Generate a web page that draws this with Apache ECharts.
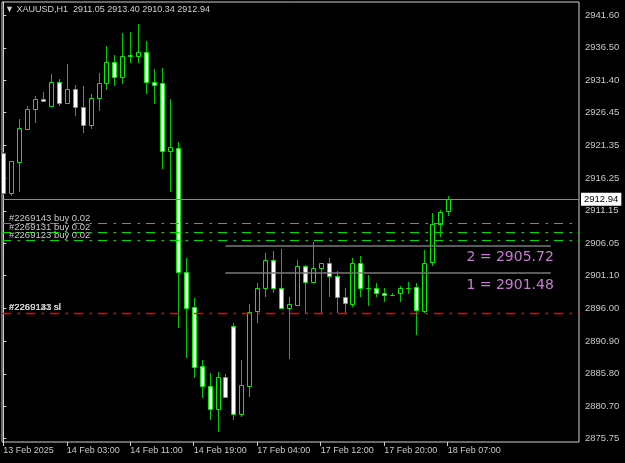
<!DOCTYPE html>
<html>
<head>
<meta charset="utf-8">
<script src="https://cdn.jsdelivr.net/npm/echarts@6/dist/echarts.min.js"></script>
<style>
html,body{margin:0;padding:0;background:#000;}
#c{width:625px;height:463px;}
</style>
</head>
<body>
<div id="c"></div>
<script>
// ---- data ----
const opens  = [2920.09,2913.87,2918.78,2923.92,2926.93,2928.58,2927.45,2931.13,2927.96,2930.04,2927.25,2924.45,2928.65,2930.98,2934.34,2931.91,2935.27,2935.22,2935.89,2931.13,2930.98,2920.40,2920.92,2901.68,2896.14,2887.01,2883.95,2880.32,2885.30,2893.28,2879.55,2883.90,2895.57,2899.10,2903.50,2899.19,2896.08,2896.45,2902.57,2900.03,2902.21,2903.03,2901.01,2897.79,2896.65,2902.98,2899.19,2899.19,2898.41,2898.10,2898.41,2899.19,2899.35,2895.61,2903.14,2909.05,2911.05];
const closes = [2913.87,2918.89,2923.98,2926.93,2928.58,2928.18,2931.13,2927.96,2930.04,2927.25,2924.45,2928.65,2930.98,2934.34,2931.91,2935.27,2935.30,2935.89,2931.13,2930.76,2920.45,2921.12,2901.68,2896.08,2886.90,2883.90,2880.32,2885.30,2882.24,2879.55,2884.06,2895.46,2899.19,2903.50,2899.10,2895.99,2896.61,2902.57,2900.08,2902.21,2903.03,2901.01,2897.70,2896.76,2902.98,2899.19,2899.15,2898.41,2898.10,2898.12,2899.19,2899.17,2895.72,2902.98,2909.05,2911.01,2912.94];
const lows   = [2913.60,2913.45,2914.12,2923.87,2924.76,2928.10,2927.40,2927.45,2927.87,2925.89,2923.20,2923.82,2926.72,2929.94,2930.56,2930.87,2934.09,2934.18,2929.31,2927.76,2917.60,2914.12,2892.88,2888.30,2885.19,2881.99,2878.61,2876.80,2882.14,2878.61,2879.13,2882.24,2893.75,2897.70,2898.32,2895.83,2888.15,2896.40,2895.10,2900.00,2895.21,2897.70,2895.21,2895.30,2896.24,2897.70,2896.34,2897.79,2897.01,2897.90,2897.01,2898.21,2891.83,2895.21,2902.61,2907.12,2910.34];
const highs  = [2920.30,2918.95,2925.43,2927.45,2929.00,2929.62,2932.42,2931.60,2933.98,2930.71,2930.56,2929.31,2932.53,2936.83,2935.38,2938.75,2939.00,2940.20,2937.60,2933.16,2933.31,2928.54,2921.90,2903.85,2897.54,2887.95,2885.97,2886.13,2885.72,2893.75,2887.95,2896.65,2899.87,2904.63,2904.90,2905.21,2897.79,2903.50,2902.72,2906.34,2903.10,2903.85,2901.80,2899.10,2903.85,2904.12,2901.16,2899.87,2899.10,2898.32,2899.45,2900.12,2899.87,2905.05,2910.76,2911.30,2913.40];

const xTickIndex  = [0, 8, 16, 24, 32, 40, 48, 56];
const xTickLabels = ['13 Feb 2025','14 Feb 03:00','14 Feb 11:00','14 Feb 19:00','17 Feb 04:00','17 Feb 12:00','17 Feb 20:00','18 Feb 07:00'];
const yTickValues = [2941.60,2936.50,2931.40,2926.45,2921.35,2916.25,2911.15,2906.05,2901.10,2896.00,2890.90,2885.80,2880.70,2875.75];

const symbolTitle = 'XAUUSD,H1  2911.05 2913.40 2910.34 2912.94';
const bidPrice = 2912.94;
const buyOrders = [
  {name: '#2269143 buy 0.02', price: 2909.17},
  {name: '#2269131 buy 0.02', price: 2907.77},
  {name: '#2269123 buy 0.02', price: 2906.53}
];
const stopLosses = [
  {name: '#2269143 sl', price: 2895.18},
  {name: '#2269131 sl', price: 2895.18},
  {name: '#2269123 sl', price: 2895.18}
];
const levels = [
  {name: '2 = 2905.72', price: 2905.72},
  {name: '1 = 2901.48', price: 2901.48}
];
const levelStartBar = 28, levelEndBar = 69;

// ---- chart ----
const FONT = 'Liberation Sans';
const TXT = '#c8c8c8';
const candleData = opens.map((o, i) => [i, o, closes[i], lows[i], highs[i]]);

const chart = echarts.init(document.getElementById('c'), null, {renderer: 'canvas'});

const dash = [9, 6.5, 2.5, 6];
const markData = [];
markData.push({
  yAxis: bidPrice,
  lineStyle: {color: '#7f8b97', width: 1.2, type: 'solid'},
  label: {show: true, position: 'end', distance: 2, formatter: bidPrice.toFixed(2),
    backgroundColor: '#ffffff', color: '#000000', fontSize: 9.5, fontFamily: FONT, padding: [2, 3, 1, 3]}
});
buyOrders.forEach(o => markData.push({
  yAxis: o.price,
  lineStyle: {color: '#00dd00', width: 1, type: dash, opacity: 1},
  label: {show: true, position: 'insideStartTop', distance: [7, 0], formatter: o.name,
    color: TXT, fontSize: 9.5, fontFamily: FONT}
}));
stopLosses.forEach((o, k) => markData.push({
  yAxis: o.price,
  lineStyle: {color: '#ff0000', width: k === 0 ? 1.3 : 0, type: dash, opacity: 1},
  label: {show: true, position: 'insideStartTop', distance: [7, 1], formatter: o.name,
    color: TXT, fontSize: 9.5, fontFamily: FONT}
}));
levels.forEach(l => markData.push([
  {coord: [levelStartBar, l.price], lineStyle: {color: '#7a7a7a', width: 1.5, type: 'solid'},
   label: {show: true, position: 'insideEndBottom', distance: [-3, 5], formatter: l.name,
     color: '#c77ccf', fontSize: 14, fontFamily: 'DejaVu Sans'}},
  {coord: [levelEndBar, l.price]}
]));

chart.setOption({
  animation: false,
  backgroundColor: '#000000',
  title: {
    text: '▼ ' + symbolTitle, left: 5, top: 5, padding: 0,
    textStyle: {color: '#d0d0d0', fontSize: 9, fontWeight: 'normal', fontFamily: FONT}
  },
  grid: {left: 2, top: 2, right: 46, bottom: 21, show: true, borderColor: '#d0d0d0', borderWidth: 1, backgroundColor: '#000'},
  xAxis: {
    type: 'value', min: -0.164, max: 72.55,
    axisLine: {show: false},
    splitLine: {show: false},
    axisTick: {show: true, customValues: xTickIndex, length: 4, lineStyle: {color: '#d0d0d0'}},
    axisLabel: {customValues: xTickIndex, align: 'left', margin: 4, color: TXT, fontSize: 9, fontFamily: FONT,
      formatter: v => xTickLabels[xTickIndex.indexOf(Math.round(v))] || ''}
  },
  yAxis: {
    type: 'value', position: 'right', min: 2875.19, max: 2943.62,
    splitLine: {show: false},
    axisLine: {show: true, lineStyle: {color: '#d0d0d0'}},
    axisTick: {show: true, customValues: yTickValues, length: 3, lineStyle: {color: '#d0d0d0'}},
    axisLabel: {customValues: yTickValues, margin: 6, color: TXT, fontSize: 9.5, fontFamily: FONT,
      formatter: v => v.toFixed(2)}
  },
  series: [
    {
      type: 'custom', clip: true, silent: true,
      encode: {x: 0, y: [1, 2, 3, 4]},
      data: candleData,
      renderItem: function (params, api) {
        const i = api.value(0), o = api.value(1), c = api.value(2), l = api.value(3), h = api.value(4);
        const pO = api.coord([i, o]), pC = api.coord([i, c]), pL = api.coord([i, l]), pH = api.coord([i, h]);
        const cx = Math.round(pO[0]);
        const top = Math.round(Math.min(pO[1], pC[1])) + 0.5;
        const bot = Math.round(Math.max(pO[1], pC[1])) + 0.5;
        const bull = c >= o;
        return {
          type: 'group',
          children: [
            {type: 'line', shape: {x1: cx + 0.5, y1: Math.round(pH[1]), x2: cx + 0.5, y2: Math.round(pL[1])},
             style: {stroke: '#00c800', lineWidth: 1}},
            {type: 'rect', shape: {x: cx - 1.5, y: top, width: 4, height: Math.max(bot - top, 0)},
             style: {fill: bull ? '#000000' : '#ffffff', stroke: '#00f000', lineWidth: 1}}
          ]
        };
      }
    },
    {
      type: 'line', data: [], silent: true, clip: false,
      markLine: {symbol: ['none', 'none'], silent: true, animation: false, data: markData}
    }
  ]
});
</script>
</body>
</html>
